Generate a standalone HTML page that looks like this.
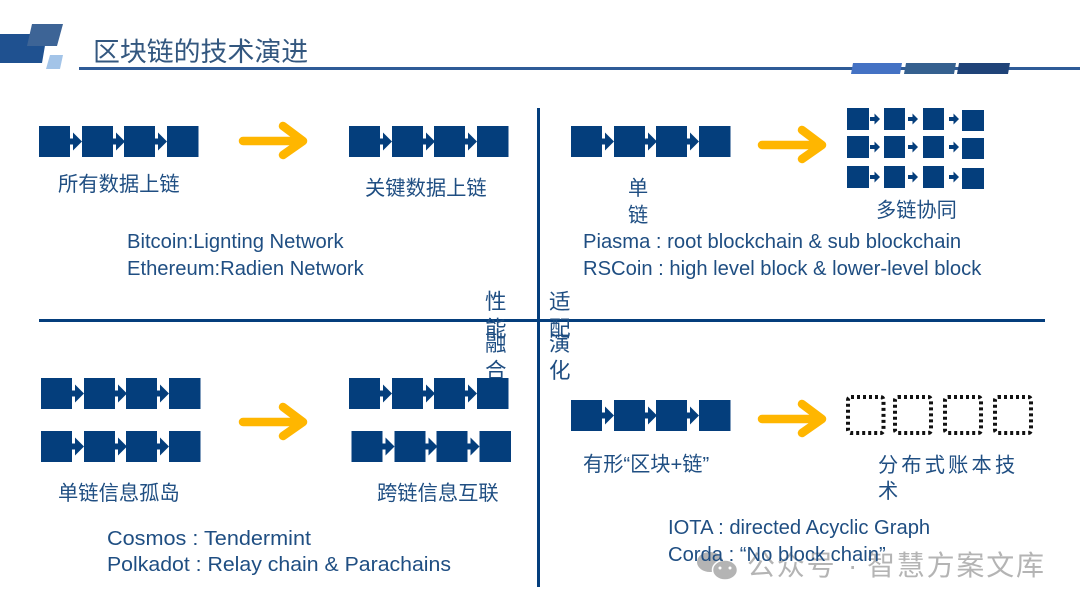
<!DOCTYPE html>
<html><head><meta charset="utf-8"><style>
html,body{margin:0;padding:0;background:#fff;width:1080px;height:608px;overflow:hidden}
svg{display:block}
text{font-family:"Liberation Sans","Noto Sans CJK SC",sans-serif;fill:#1f4e82;font-size:20.2px}
.c{fill:#33577f}
.w{font-size:28px;fill:#b4b4b4;letter-spacing:1.8px}
</style></head><body>
<svg width="1080" height="608" viewBox="0 0 1080 608" xmlns="http://www.w3.org/2000/svg">
<defs>
<g id="chain" fill="#043e7c" stroke="none">
<rect x="0" y="0" width="31" height="31"/><rect x="43" y="0" width="31" height="31"/><rect x="85" y="0" width="31" height="31"/><rect x="128" y="0" width="31.500" height="31"/>
<path d="M31 12.500h3v-6l9 9-9 9v-6h-3zM74 12.500h3v-6l9 9-9 9v-6h-3zM116 12.500h3v-6l9 9-9 9v-6h-3z"/>
</g>
<path id="arr" d="M2 18H60M42 3L62 18L42 32" fill="none" stroke="#ffb600" stroke-width="8.500" stroke-linecap="round" stroke-linejoin="round"/>
<path id="sa" d="M0 3h4.500v-3.500l5.500 5.500-5.500 5.500v-3.500h-4.500z" fill="#043e7c"/>
</defs>
<!-- header -->
<path d="M0 34H47L42 63H0z" fill="#1f5190"/>
<path d="M32 24H63L57 46H27z" fill="#3d6496"/>
<path d="M50 55H63L60 69H46z" fill="#a3c4e8"/>
<rect x="79" y="67" width="1001" height="3" fill="#2f5b97"/>
<path d="M853 63H902L900 74H851z" fill="#4472c4"/>
<path d="M906 63H956L954 74H904z" fill="#35608f"/>
<path d="M959 63H1010L1008 74H957z" fill="#1f4378"/>
<text x="93" y="61" class="c" style="font-size:26.900px">区块链的技术演进</text>
<!-- cross -->
<rect x="537" y="108" width="3" height="479" fill="#043e7c"/>
<rect x="39" y="319" width="1006" height="3" fill="#043e7c"/>
<!-- TL -->
<use href="#chain" x="39" y="126"/>
<use href="#arr" x="241" y="123"/>
<use href="#chain" x="349" y="126"/>
<text x="58" y="191" style="font-size:20.300px">所有数据上链</text>
<text x="365" y="195" style="font-size:20.300px">关键数据上链</text>
<text x="127" y="248">Bitcoin:Lignting Network</text>
<text x="127" y="275">Ethereum:Radien Network</text>
<!-- TR -->
<use href="#chain" x="571" y="126"/>
<use href="#arr" x="760" y="127"/>
<g fill="#043e7c">
<rect x="847" y="108" width="22" height="22"/><rect x="884" y="108" width="21" height="22"/><rect x="923" y="108" width="21" height="22"/><rect x="962" y="110" width="22" height="21"/>
<rect x="847" y="136" width="22" height="22"/><rect x="884" y="136" width="21" height="22"/><rect x="923" y="136" width="21" height="22"/><rect x="962" y="138" width="22" height="21"/>
<rect x="847" y="166" width="22" height="22"/><rect x="884" y="166" width="21" height="22"/><rect x="923" y="166" width="21" height="22"/><rect x="962" y="168" width="22" height="21"/>
</g>
<use href="#sa" x="870" y="114"/><use href="#sa" x="908" y="114"/><use href="#sa" x="949" y="114"/>
<use href="#sa" x="870" y="142"/><use href="#sa" x="908" y="142"/><use href="#sa" x="949" y="142"/>
<use href="#sa" x="870" y="172"/><use href="#sa" x="908" y="172"/><use href="#sa" x="949" y="172"/>
<text x="628" y="195">单</text>
<text x="628" y="222">链</text>
<text x="876" y="217">多链协同</text>
<text x="583" y="248">Piasma : root blockchain &amp; sub blockchain</text>
<text x="583" y="275">RSCoin : high level block &amp; lower-level block</text>
<!-- centre -->
<text x="485" y="309" style="font-size:21.500px">性</text>
<text x="485" y="336" style="font-size:21.500px">能</text>
<text x="485" y="351" style="font-size:21.500px">融</text>
<text x="485" y="378" style="font-size:21.500px">合</text>
<text x="549" y="309" style="font-size:21.500px">适</text>
<text x="549" y="336" style="font-size:21.500px">配</text>
<text x="549" y="351" style="font-size:21.500px">演</text>
<text x="549" y="378" style="font-size:21.500px">化</text>
<!-- BL -->
<use href="#chain" x="41" y="378"/>
<use href="#chain" x="41" y="431"/>
<use href="#arr" x="241" y="404"/>
<use href="#chain" x="349" y="378"/>
<use href="#chain" x="351.500" y="431"/>
<text x="58" y="500" style="font-size:20.300px">单链信息孤岛</text>
<text x="377" y="500" style="font-size:20.300px">跨链信息互联</text>
<text x="107" y="545" textLength="204" lengthAdjust="spacingAndGlyphs">Cosmos : Tendermint</text>
<text x="107" y="571" textLength="344" lengthAdjust="spacingAndGlyphs">Polkadot : Relay chain &amp; Parachains</text>
<!-- BR -->
<use href="#chain" x="571" y="400"/>
<use href="#arr" x="760" y="401"/>
<g fill="none" stroke="#111" stroke-width="4" stroke-dasharray="3 3">
<rect x="848" y="397" width="35.500" height="36" rx="3"/>
<rect x="895" y="397" width="36" height="36" rx="3"/>
<rect x="945" y="397" width="36" height="36" rx="3"/>
<rect x="995" y="397" width="36" height="36" rx="3"/>
</g>
<text x="583" y="471">有形“区块+链”</text>
<text x="878" y="472" style="letter-spacing:3.200px">分布式账本技</text>
<text x="878" y="498">术</text>
<!-- watermark -->
<g fill="#b4b4b4">
<ellipse cx="710" cy="562" rx="13" ry="10"/>
<ellipse cx="725" cy="570" rx="12.500" ry="10" stroke="#fff" stroke-width="1.500"/>
</g>
<circle cx="720" cy="568" r="1.500" fill="#fff"/><circle cx="730" cy="568" r="1.500" fill="#fff"/>
<text x="747" y="575" class="w">公众号</text>
<text x="848" y="575" class="w">·</text>
<text x="867" y="575" class="w">智慧方案文库</text>
<text x="668" y="534">IOTA : directed Acyclic Graph</text>
<text x="668" y="561">Corda : “No block chain”</text>
</svg>
</body></html>
